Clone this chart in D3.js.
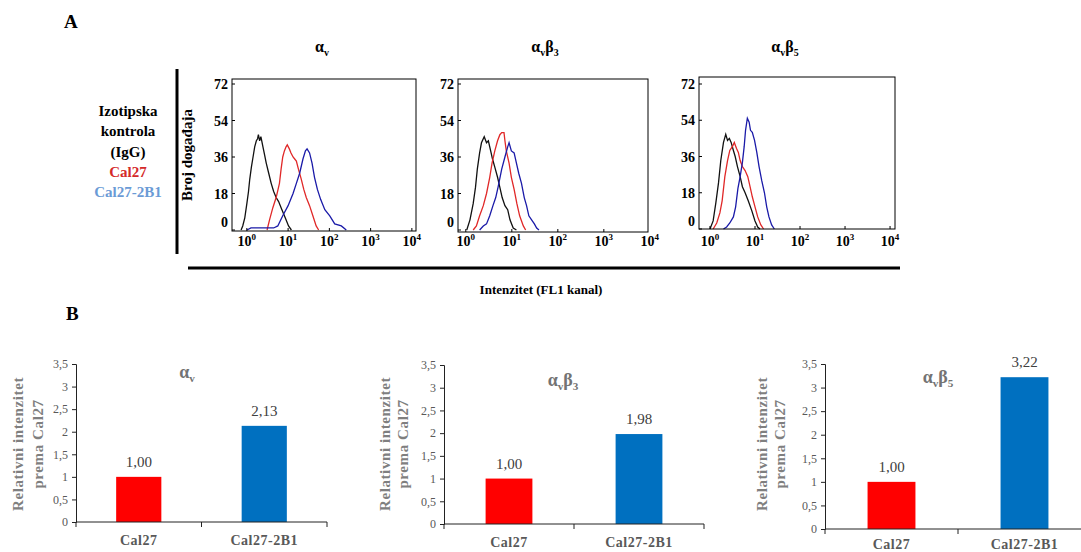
<!DOCTYPE html>
<html>
<head>
<meta charset="utf-8">
<script src="https://cdn.jsdelivr.net/npm/d3@7"></script>
<style>
  body { margin: 0; background: #fff; }
  svg, svg text { font-family: "Liberation Serif", "DejaVu Serif", "Times New Roman", serif; }
  svg { display: block; }
</style>
</head>
<body>
<svg id="chart" width="1081" height="552"></svg>
<script>
// ---- podaci: histogrami (log10 intenziteta, broj događaja) ----
const histTitles = [['α', 'v'], ['α', 'v', 'β', '3'], ['α', 'v', 'β', '5']];
const histYTicks = [0, 18, 36, 54, 72];
const histXTicks = [0, 1, 2, 3, 4]; // eksponenti 10^n
const legendLines = ['Izotipska', 'kontrola', '(IgG)', 'Cal27', 'Cal27-2B1'];

const avIgG = [[-0.14,0],[-0.10,2],[-0.05,6],[0.0,13],[0.04,19],[0.07,25],[0.11,31],[0.15,36],[0.19,41],[0.23,44],[0.26,45],[0.28,47],[0.31,44],[0.34,46],[0.39,41],[0.43,37],[0.47,33],[0.53,28],[0.59,23],[0.65,19],[0.71,16],[0.77,14],[0.83,11],[0.89,8],[0.95,5],[1.01,2],[1.08,0]];
const avCal27 = [[0.49,0],[0.55,5],[0.63,11],[0.71,16],[0.79,23],[0.83,30],[0.87,36],[0.91,39],[0.95,41],[0.98,42],[1.03,40],[1.07,38],[1.12,36],[1.16,35],[1.20,34],[1.25,30],[1.32,25],[1.38,20],[1.44,16],[1.52,12],[1.60,7],[1.68,2],[1.74,0]];
const av2B1 = [[0.0,0],[0.1,1],[0.3,1],[0.5,1],[0.65,1],[0.75,2],[0.87,7],[1.0,12],[1.12,18],[1.20,23],[1.28,28],[1.36,35],[1.42,39],[1.46,40],[1.52,38],[1.58,33],[1.64,26],[1.71,20],[1.79,15],[1.89,10],[2.01,7],[2.13,3],[2.29,2],[2.41,0]];

const b3IgG = [[0.02,0],[0.09,5],[0.16,13],[0.21,21],[0.25,30],[0.30,38],[0.34,43],[0.40,46],[0.45,43],[0.49,44],[0.54,39],[0.58,35],[0.63,31],[0.69,26],[0.74,21],[0.79,16],[0.85,12],[0.91,10],[0.96,5],[1.03,1],[1.10,0]];
const b3Cal27 = [[0.16,0],[0.23,2],[0.30,7],[0.38,12],[0.45,18],[0.52,26],[0.57,33],[0.63,39],[0.69,44],[0.74,47],[0.78,48],[0.83,48],[0.85,44],[0.88,39],[0.94,33],[0.99,26],[1.05,20],[1.11,13],[1.17,7],[1.25,2],[1.30,0]];
const b3_2B1 = [[0.30,0],[0.38,2],[0.45,3],[0.52,7],[0.59,12],[0.65,16],[0.70,21],[0.78,30],[0.85,36],[0.91,41],[0.94,43],[0.99,39],[1.05,38],[1.10,33],[1.15,28],[1.21,23],[1.27,16],[1.32,12],[1.37,7],[1.43,5],[1.49,3],[1.54,1],[1.59,0]];

const b5IgG = [[0.0,0],[0.07,4],[0.13,13],[0.19,23],[0.24,34],[0.30,43],[0.35,47],[0.39,44],[0.43,45],[0.47,43],[0.52,39],[0.56,36],[0.61,31],[0.67,26],[0.72,21],[0.78,18],[0.85,14],[0.93,9],[1.0,4],[1.06,1],[1.11,0]];
const b5Cal27 = [[0.07,0],[0.15,3],[0.22,8],[0.27,14],[0.33,26],[0.39,34],[0.44,39],[0.50,41],[0.54,43],[0.59,40],[0.63,38],[0.67,34],[0.72,31],[0.78,29],[0.84,26],[0.89,21],[0.94,16],[1.0,11],[1.06,6],[1.13,2],[1.19,0]];
const b5_2B1 = [[0.30,0],[0.37,1],[0.44,3],[0.52,6],[0.57,11],[0.62,20],[0.67,26],[0.72,33],[0.76,41],[0.79,49],[0.83,55],[0.87,53],[0.90,49],[0.94,48],[0.99,44],[1.04,38],[1.09,31],[1.15,24],[1.21,18],[1.26,11],[1.31,6],[1.37,2],[1.43,0]];

// ---- podaci: stupčasti grafikoni ----
const barCategories = ['Cal27', 'Cal27-2B1'];
const avValues = [1.00, 2.13];
const b3Values = [1.00, 1.98];
const b5Values = [1.00, 3.22];
const barYTicks = [0, 0.5, 1, 1.5, 2, 2.5, 3, 3.5];

const svg = d3.select('#chart');
const SERIF = '"Liberation Serif", "DejaVu Serif", serif';
const comma = v => String(v).replace('.', ',');

// naslov s indeksima (neparni dijelovi su indeksi)
function subTitle(sel, parts, size) {
    parts.forEach((p, i) => {
        const sub = i % 2 === 1;
        sel.append('tspan')
            .attr('font-size', sub ? size * 0.62 : size)
            .attr('dy', sub ? size * 0.22 : (i > 0 ? -size * 0.22 : 0))
            .text(p);
    });
}

// ---------------- dio A ----------------
svg.append('text').attr('x', 64).attr('y', 28)
    .attr('font-size', 19).attr('font-weight', 'bold').text('A');

const histPanels = [
    {left: 232, right: 416, top: 79, bottom: 231, dom: [-0.36, 4.1], y0: 230, y72: 84, titleX: 322,
     series: [avIgG, avCal27, av2B1]},
    {left: 458, right: 648, top: 79, bottom: 232, dom: [-0.17, 3.96], y0: 230, y72: 84, titleX: 545,
     series: [b3IgG, b3Cal27, b3_2B1]},
    {left: 699, right: 895, top: 77, bottom: 229, dom: [-0.244, 4.11], y0: 229, y72: 84, titleX: 785,
     series: [b5IgG, b5Cal27, b5_2B1]}
];
const lineColors = ['#111111', '#e02828', '#1a1aa8'];

histPanels.forEach((p, pi) => {
    const x = d3.scaleLog().domain([10 ** p.dom[0], 10 ** p.dom[1]]).range([p.left, p.right]);
    const y = d3.scaleLinear().domain([0, 72]).range([p.y0, p.y72]);
    const g = svg.append('g');

    // naslov
    const t = g.append('text').attr('x', p.titleX).attr('y', 52)
        .attr('text-anchor', 'middle').attr('font-weight', 'bold');
    subTitle(t, histTitles[pi], 16);

    // krivulje
    const line = d3.line().x(d => x(10 ** d[0])).y(d => y(d[1]));
    p.series.forEach((s, si) => {
        g.append('path').datum(s)
            .attr('fill', 'none')
            .attr('stroke', lineColors[si])
            .attr('stroke-width', 1.3)
            .attr('d', line);
    });

    // okvir
    g.append('rect')
        .attr('x', p.left).attr('y', p.top)
        .attr('width', p.right - p.left).attr('height', p.bottom - p.top)
        .attr('fill', 'none').attr('stroke', '#000').attr('stroke-width', 1);

    // y oznake
    histYTicks.forEach(v => {
        g.append('text')
            .attr('x', p.left - 4).attr('y', v === 0 ? y(v) - 3 : y(v) + 5)
            .attr('text-anchor', 'end').attr('font-size', 14).attr('font-weight', 'bold')
            .text(v);
        g.append('line')
            .attr('x1', p.left).attr('x2', p.left + 3)
            .attr('y1', y(v)).attr('y2', y(v)).attr('stroke', '#000');
    });

    // x oznake 10^n
    histXTicks.forEach(n => {
        const xx = x(10 ** n);
        const tx = g.append('text').attr('x', xx).attr('y', 246)
            .attr('text-anchor', 'middle').attr('font-weight', 'bold').attr('font-size', 14);
        tx.append('tspan').text('10');
        tx.append('tspan').attr('dy', -6).attr('font-size', 9).text(n);
        if (xx < p.right) {
            g.append('line').attr('x1', xx).attr('x2', xx)
                .attr('y1', p.bottom).attr('y2', p.bottom - 3).attr('stroke', '#000');
        }
    });
});

// legenda
const legendColors = ['#000', '#000', '#000', '#d42a2a', '#6b9bd6'];
legendLines.forEach((s, i) => {
    svg.append('text')
        .attr('x', 128).attr('y', 116 + i * 20.3)
        .attr('text-anchor', 'middle').attr('font-size', 15).attr('font-weight', 'bold')
        .attr('fill', legendColors[i]).text(s);
});

// os y - oznaka i crta
svg.append('line').attr('x1', 177).attr('x2', 177).attr('y1', 69).attr('y2', 254)
    .attr('stroke', '#000').attr('stroke-width', 3);
svg.append('text')
    .attr('transform', 'translate(192,155) rotate(-90)')
    .attr('text-anchor', 'middle').attr('font-size', 15).attr('font-weight', 'bold')
    .text('Broj događaja');

// os x - crta i oznaka
svg.append('line').attr('x1', 188).attr('x2', 900).attr('y1', 268).attr('y2', 268)
    .attr('stroke', '#000').attr('stroke-width', 3);
svg.append('text').attr('x', 541).attr('y', 294)
    .attr('text-anchor', 'middle').attr('font-size', 13).attr('font-weight', 'bold')
    .text('Intenzitet (FL1 kanal)');

// ---------------- dio B ----------------
svg.append('text').attr('x', 66).attr('y', 320)
    .attr('font-size', 19).attr('font-weight', 'bold').text('B');

const barPanels = [
    {axisX: 76, xEnd: 327, y0: 522, yTop: 364, values: avValues, title: histTitles[0], titleX: 187, titleY: 378,
     labX: [18, 38], catY: 545},
    {axisX: 444, xEnd: 704, y0: 524, yTop: 365, values: b3Values, title: histTitles[1], titleX: 563, titleY: 386,
     labX: [385, 403], catY: 547},
    {axisX: 825, xEnd: 1091, y0: 529, yTop: 364, values: b5Values, title: histTitles[2], titleX: 938, titleY: 383,
     labX: [762, 780], catY: 549}
];
const barColors = ['#ff0000', '#0070c0'];

barPanels.forEach(p => {
    const g = svg.append('g');
    const x = d3.scaleBand().domain(barCategories).range([p.axisX, p.xEnd]).paddingInner(0.64).paddingOuter(0.32);
    const y = d3.scaleLinear().domain([0, 3.5]).range([p.y0, p.yTop]);

    // stupci
    g.selectAll('rect.bar').data(p.values).join('rect')
        .attr('class', 'bar')
        .attr('x', (d, i) => x(barCategories[i]))
        .attr('y', d => y(d))
        .attr('width', x.bandwidth())
        .attr('height', d => y(0) - y(d))
        .attr('fill', (d, i) => barColors[i]);

    // vrijednosti
    g.selectAll('text.val').data(p.values).join('text')
        .attr('class', 'val')
        .attr('x', (d, i) => x(barCategories[i]) + x.bandwidth() / 2)
        .attr('y', d => y(d) - 10)
        .attr('text-anchor', 'middle').attr('font-size', 15).attr('fill', '#404040')
        .text(d => d.toFixed(2).replace('.', ','));

    // os y
    const yAxis = d3.axisLeft(y).tickValues(barYTicks).tickSize(4).tickPadding(4).tickFormat(comma);
    const ga = g.append('g').attr('transform', `translate(${p.axisX},0)`).call(yAxis)
        .attr('font-family', SERIF);
    ga.select('.domain').attr('stroke', '#222');
    ga.selectAll('.tick line').attr('stroke', '#222');
    ga.selectAll('.tick text').attr('font-size', 12).attr('fill', '#595959');

    // os x
    g.append('line').attr('x1', p.axisX).attr('x2', p.xEnd).attr('y1', p.y0).attr('y2', p.y0)
        .attr('stroke', '#222');
    const step = (p.xEnd - p.axisX) / barCategories.length;
    d3.range(barCategories.length + 1).forEach(i => {
        const xx = p.axisX + i * step;
        g.append('line').attr('x1', xx).attr('x2', xx).attr('y1', p.y0).attr('y2', p.y0 + 5)
            .attr('stroke', '#222');
    });
    barCategories.forEach(c => {
        g.append('text')
            .attr('x', x(c) + x.bandwidth() / 2).attr('y', p.catY)
            .attr('text-anchor', 'middle').attr('font-size', 14).attr('font-weight', 'bold')
            .attr('fill', '#595959').attr('letter-spacing', 0.5).text(c);
    });

    // naslov
    const t = g.append('text').attr('x', p.titleX).attr('y', p.titleY)
        .attr('text-anchor', 'middle').attr('font-weight', 'bold').attr('fill', '#737373');
    subTitle(t, p.title, 18);

    // oznaka osi y
    ['Relativni intenzitet', 'prema Cal27'].forEach((s, i) => {
        g.append('text')
            .attr('transform', `translate(${p.labX[i] + 5},444) rotate(-90)`)
            .attr('text-anchor', 'middle').attr('font-size', 15).attr('font-weight', 'bold')
            .attr('fill', '#7f7f7f').attr('letter-spacing', 0.6).text(s);
    });
});
</script>
</body>
</html>
